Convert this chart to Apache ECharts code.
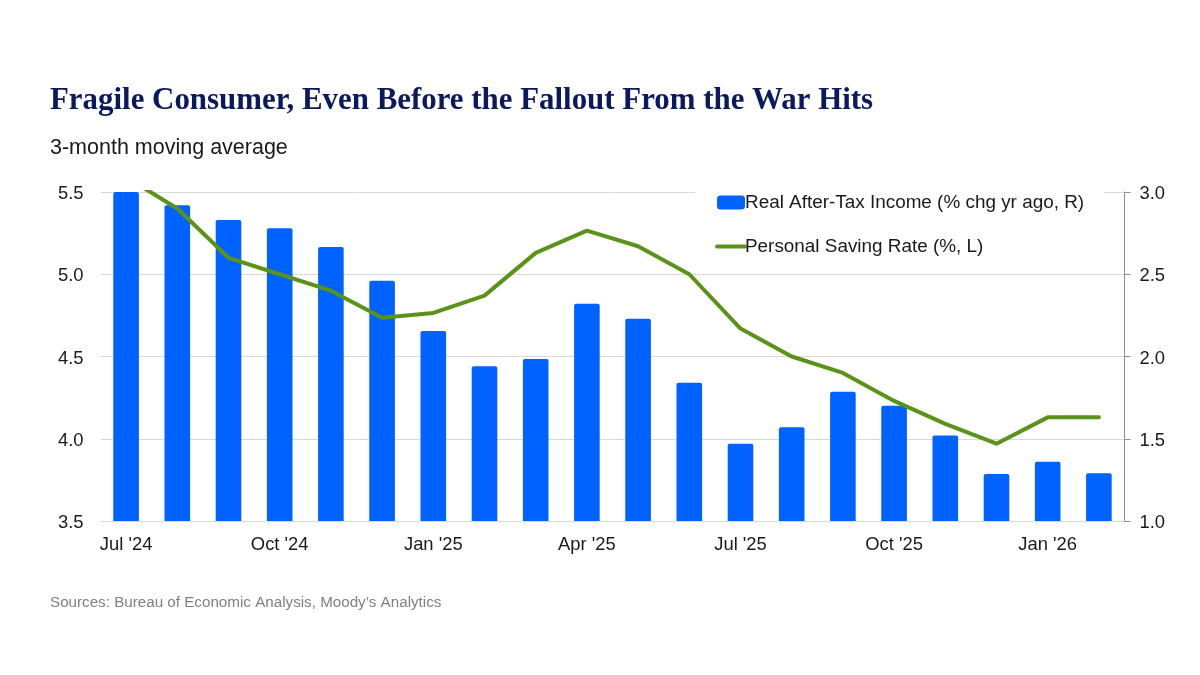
<!DOCTYPE html>
<html>
<head>
<meta charset="utf-8">
<script src="https://cdn.jsdelivr.net/npm/echarts@6/dist/echarts.min.js"></script>
<style>html,body{margin:0;padding:0;background:#fff}#c{width:1200px;height:675px}</style>
</head>
<body>
<div id="c"></div>
<script>
const categories = ["Jul '24","Aug '24","Sep '24","Oct '24","Nov '24","Dec '24","Jan '25","Feb '25","Mar '25","Apr '25","May '25","Jun '25","Jul '25","Aug '25","Sep '25","Oct '25","Nov '25","Dec '25","Jan '26","Feb '26"];
const incomeValues = [5.5,5.42,5.33,5.28,5.165,4.96,4.655,4.44,4.485,4.82,4.73,4.34,3.97,4.07,4.285,4.2,4.02,3.785,3.86,3.79];
const savingValues = [3.09,2.9,2.6,2.5,2.4,2.235,2.265,2.37,2.63,2.765,2.67,2.5,2.17,2.0,1.9,1.73,1.59,1.47,1.63,1.63];
const leftTicks = {min:3.5,max:5.5,interval:0.5};
const rightTicks = {min:1.0,max:3.0,interval:0.5};
const titleText = "Fragile Consumer, Even Before the Fallout From the War Hits";
const subtitleText = "3-month moving average";
const sourceText = "Sources: Bureau of Economic Analysis, Moody\u2019s Analytics";
const incomeName = "Real After-Tax Income (% chg yr ago, R)";
const savingName = "Personal Saving Rate (%, L)";

const sans = '"Liberation Sans", Arial, sans-serif';
const green = '#5a9318';
const tickRich = {a:{padding:[4,0,0,0],fontFamily:sans,fontSize:18.4,color:'#1a1a1a'}};
const tickFmt = v => '{a|' + v.toFixed(1) + '}';
const chart = echarts.init(document.getElementById('c'), null, {renderer:'canvas'});
chart.setOption({
  animation:false,
  backgroundColor:'#fff',
  title:[
    {text:titleText,left:50,top:86,padding:0,textStyle:{fontFamily:'"Liberation Serif", serif',fontWeight:'bold',fontSize:30.9,color:'#0b1a5e'}},
    {text:subtitleText,left:50,top:137,padding:0,textStyle:{fontFamily:sans,fontWeight:'normal',fontSize:21.5,color:'#1a1a1a'}},
    {text:sourceText,left:50,top:595,padding:0,textStyle:{fontFamily:sans,fontWeight:'normal',fontSize:15.2,color:'#808080'}}
  ],
  legend:{
    orient:'vertical',left:695,top:185,
    padding:[8,20,8,20],
    backgroundColor:'#fff',
    itemWidth:28,itemHeight:14,itemGap:25,
    textStyle:{fontFamily:sans,fontSize:18.9,color:'#1a1a1a',padding:[0,0,0,-5]},
    data:[
      {name:incomeName,icon:'roundRect'},
      {name:savingName,itemStyle:{color:'transparent',opacity:0},lineStyle:{width:4,color:green,cap:'round'}}
    ]
  },
  grid:{left:100.5,right:75.5,top:192,bottom:154,containLabel:false},
  xAxis:{
    type:'category',data:categories,
    axisTick:{show:false},
    axisLine:{show:true,lineStyle:{color:'#d9d9d9',width:1}},
    axisLabel:{interval:2,margin:15,fontFamily:sans,fontSize:18.4,color:'#1a1a1a'}
  },
  yAxis:[
    {type:'value',position:'left',min:leftTicks.min,max:leftTicks.max,interval:leftTicks.interval,
     axisLine:{show:false},axisTick:{show:false},
     splitLine:{show:true,lineStyle:{color:'#d9d9d9',width:1}},
     axisLabel:{margin:17,formatter:tickFmt,rich:tickRich}},
    {type:'value',position:'right',min:rightTicks.min,max:rightTicks.max,interval:rightTicks.interval,
     axisLine:{show:true,lineStyle:{color:'#8c8c8c',width:1}},
     axisTick:{show:true,length:6,lineStyle:{color:'#8c8c8c',width:1}},
     splitLine:{show:false},
     axisLabel:{margin:15,formatter:tickFmt,rich:tickRich}}
  ],
  series:[
    {name:incomeName,type:'bar',yAxisIndex:0,data:incomeValues,barWidth:'50%',
     itemStyle:{color:'#0062ff',borderRadius:[2,2,0,0]}},
    {name:savingName,type:'line',yAxisIndex:1,data:savingValues,showSymbol:false,symbol:'none',clip:true,
     lineStyle:{color:green,width:4,cap:'round',join:'round'},itemStyle:{color:green}}
  ]
});
</script>
</body>
</html>
